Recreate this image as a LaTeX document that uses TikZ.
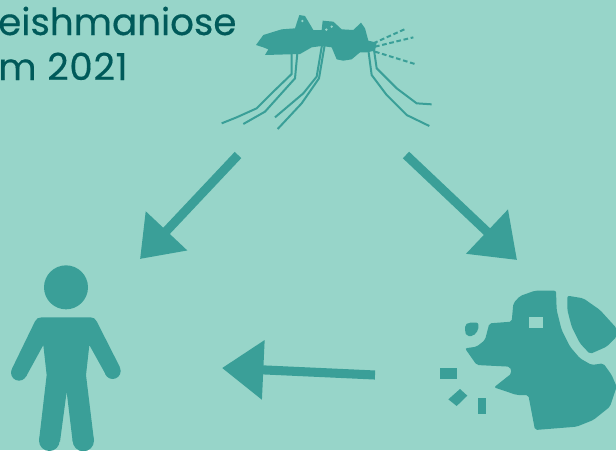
\documentclass[tikz,border=0pt]{standalone}
\usepackage{fontspec}
\newfontfamily\titlefont{Poppins}[AutoFakeBold=0.4]
\usetikzlibrary{arrows.meta}
\definecolor{bgc}{HTML}{97D5C9}
\definecolor{teal1}{HTML}{3A9F98}
\definecolor{inkc}{HTML}{005A5A}
\tikzset{
  conn/.style={draw=teal1,line width=6.8pt},
  title/.style={anchor=base west,inner sep=0pt,text=inkc,font=\titlefont\bfseries\fontsize{27.9pt}{32pt}\selectfont},
  icon/.style={fill=teal1,draw=none,rounded corners=1.5pt},
  thinleg/.style={draw=teal1,line width=1.5pt},
  dashleg/.style={draw=teal1,line width=1.5pt,dash pattern=on 3.5pt off 2pt},
  zoomed/.style={x=.25pt,y=-.25pt}
}
\begin{document}
\begin{tikzpicture}[x=.75pt,y=-.75pt]
\useasboundingbox (0,0) rectangle (616,450);
\clip (0,0) rectangle (616,450);
\fill[bgc] (0,0) rectangle (616,450);
\node[title] (t1) at (-2,35) {eishmaniose};
\node[title] (t2) at (-2,80) {\addfontfeature{LetterSpace=2}m 2021};

% mosquito
\begin{scope}[shift={(200,0)},zoomed]
\fill[teal1] (168,135)--(190,105)--(245,88)--(285,85)--(298,45)--(315,48)--(340,90)--(365,90)--(368,62)--(400,65)--(425,88)--(460,90)--(483,68)--(495,85)--(505,122)--(530,128)--(525,152)--(500,157)--(480,157)--(455,178)--(430,182)--(410,178)--(395,142)--(365,138)--(335,142)--(300,162)--(195,165)--(205,148)--(190,142)--cycle;
\fill[bgc] (307,63) circle (4) (379,89) circle (4) (395,80) circle (4);
\draw[thinleg] (275,160)--(275,222)--(220,275)--(170,325)--(110,352)--(65,370);
\draw[thinleg] (292,160)--(285,235)--(240,285)--(195,335)--(130,372);
\draw[thinleg] (366,135)--(350,230)--(310,280)--(225,352);
\draw[thinleg] (374,135)--(357,235)--(305,310)--(233,387);
\draw[thinleg] (505,150)--(515,225)--(560,285)--(620,345)--(688,378);
\draw[thinleg] (522,150)--(530,205)--(590,265)--(650,310)--(695,313);
\draw[dashleg] (520,130)--(620,85);
\draw[dashleg] (525,140)--(640,112);
\draw[dashleg] (525,155)--(648,193);
\end{scope}

% person
\begin{scope}[shift={(0,250)},zoomed]
\fill[teal1] (198,112) circle (66);
\fill[teal1] (125,202)--(272,202) .. controls (280,202) and (286,206) .. (290,214)--(359,350)--(318,375)--(268,285)--(258,375)--(282,572)--(218,575)--(200,425)--(180,575)--(117,572)--(140,375)--(130,285)--(78,380)--(36,356)--(105,214) .. controls (109,206) and (115,202) .. (125,202)--cycle;
\fill[teal1] (57,368) circle (24) (338,363) circle (24) (148,572) circle (31) (250,572) circle (32);
\end{scope}

% dog
\begin{scope}[shift={(420,280)},zoomed]
\fill[icon] (280,70)--(300,48)--(345,32)--(408,32)--(410,90)--(425,150)--(450,200)--(480,235)--(515,255)--(550,250)--(575,285)--(590,320)--(570,380)--(520,420)--(470,440)--(345,450)--(325,345)--(290,345)--(222,322)--(275,280)--(270,260)--(170,255)--(135,205)--(170,200)--(195,180)--(208,130)--(275,125)--cycle;
\fill[bgc] (328,112) rectangle (370,145);
\fill[icon] (442,47)--(490,55)--(540,90)--(590,145)--(590,170)--(560,200)--(510,222)--(480,190)--(455,140)--(442,90)--cycle;
\fill[icon] (135,135)--(145,128)--(175,128)--(175,150)--(160,168)--(140,168)--(135,155)--cycle;
\fill[teal1] (60,265) rectangle (110,297);
\fill[teal1] (85,358)--(120,327)--(142,347)--(110,378)--cycle;
\fill[teal1] (175,355) rectangle (198,402);
\end{scope}

% arrows
\coordinate (a1s) at (238,155);
\coordinate (a1e) at (140,259);
\coordinate (a2s) at (406,155);
\coordinate (a2e) at (517,260);
\coordinate (a3s) at (375,375);
\coordinate (a3e) at (222,368);
\draw[conn,-{Triangle[length=29pt,width=41pt]}] (a1s) -- (a1e);
\draw[conn,-{Triangle[length=31pt,width=44pt]}] (a2s) -- (a2e);
\draw[conn,-{Triangle[length=31pt,width=43pt]}] (a3s) -- (a3e);
\end{tikzpicture}
\end{document}
